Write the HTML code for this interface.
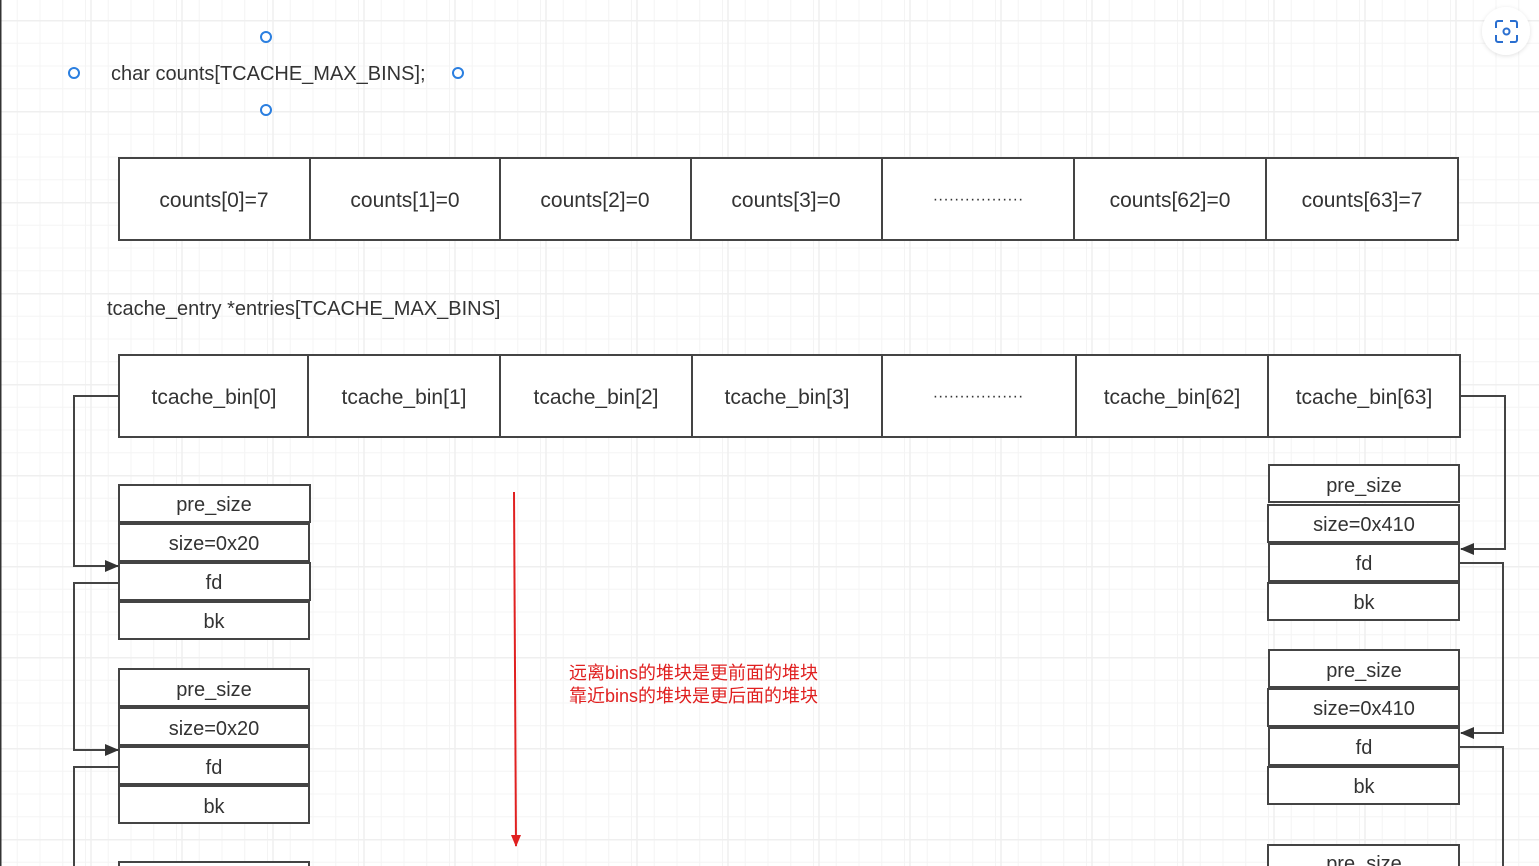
<!DOCTYPE html>
<html><head><meta charset="utf-8"><style>
html,body{margin:0;padding:0;}
body{width:1539px;height:866px;overflow:hidden;position:relative;background:#fff;
background-image:linear-gradient(to right,#efefef 1.5px,transparent 1.5px),linear-gradient(to bottom,#efefef 1.5px,transparent 1.5px),linear-gradient(to right,#f4f4f4 1px,transparent 1px),linear-gradient(to bottom,#f4f4f4 1px,transparent 1px);
background-size:91px 91px,91px 91px,22.75px 22.75px,22.75px 22.75px;
background-position:-0.75px 20px,-0.75px 20px,16.75px 20px,16.75px 20px;
font-family:"Liberation Sans","Noto Sans CJK SC",sans-serif;}
svg{position:absolute;left:0;top:0;}
text{font-family:"Liberation Sans","Noto Sans CJK SC",sans-serif;fill:#333;}
</style></head><body>
<svg width="1539" height="866" viewBox="0 0 1539 866">
<defs>
<marker id="a" markerWidth="14" markerHeight="12" refX="13" refY="6" orient="auto" markerUnits="userSpaceOnUse"><path d="M0,0 L14,6 L0,12 z" fill="#333"/></marker>
<marker id="ar" markerWidth="10" markerHeight="12" refX="5" refY="11" orient="0" markerUnits="userSpaceOnUse"><path d="M0,0 L10,0 L5,12 z" fill="#e02020"/></marker>
<filter id="sh" x="-50%" y="-50%" width="200%" height="200%"><feDropShadow dx="0" dy="1" stdDeviation="2" flood-color="#000" flood-opacity="0.12"/></filter>
</defs>
<line x1="0.5" y1="0" x2="0.5" y2="866" stroke="#333" stroke-width="2"/>
<g fill="#fff" stroke="#2b7fe0" stroke-width="2">
<circle cx="266" cy="37" r="5"/><circle cx="74" cy="73" r="5"/><circle cx="458" cy="73" r="5"/><circle cx="266" cy="110" r="5"/>
</g>
<text x="111" y="80" font-size="20">char counts[TCACHE_MAX_BINS];</text>
<text x="107" y="315" font-size="20">tcache_entry *entries[TCACHE_MAX_BINS]</text>
<g stroke="#444" stroke-width="2" fill="#fff">
<rect x="119" y="158" width="1339" height="82"/>
<line x1="310" y1="158" x2="310" y2="240"/><line x1="500" y1="158" x2="500" y2="240"/><line x1="691" y1="158" x2="691" y2="240"/><line x1="882" y1="158" x2="882" y2="240"/><line x1="1074" y1="158" x2="1074" y2="240"/><line x1="1266" y1="158" x2="1266" y2="240"/>
<rect x="119" y="355" width="1341" height="82"/>
<line x1="308" y1="355" x2="308" y2="437"/><line x1="500" y1="355" x2="500" y2="437"/><line x1="692" y1="355" x2="692" y2="437"/><line x1="882" y1="355" x2="882" y2="437"/><line x1="1076" y1="355" x2="1076" y2="437"/><line x1="1268" y1="355" x2="1268" y2="437"/>
</g>
<g font-size="21" text-anchor="middle">
<text x="214" y="207">counts[0]=7</text><text x="405" y="207">counts[1]=0</text><text x="595" y="207">counts[2]=0</text><text x="786" y="207">counts[3]=0</text><text x="978" y="204" font-size="16">·················</text><text x="1170" y="207">counts[62]=0</text><text x="1362" y="207">counts[63]=7</text>
<text x="214" y="404">tcache_bin[0]</text><text x="404" y="404">tcache_bin[1]</text><text x="596" y="404">tcache_bin[2]</text><text x="787" y="404">tcache_bin[3]</text><text x="978" y="401" font-size="16">·················</text><text x="1172" y="404">tcache_bin[62]</text><text x="1364" y="404">tcache_bin[63]</text>
</g>
<g stroke="#444" stroke-width="2" fill="#fff">
<rect x="119" y="485" width="191" height="37"/><rect x="119" y="524" width="190" height="37"/><rect x="119" y="563" width="191" height="37"/><rect x="119" y="602" width="190" height="37"/>
<rect x="119" y="669" width="190" height="37"/><rect x="119" y="708" width="190" height="37"/><rect x="119" y="747" width="190" height="37"/><rect x="119" y="786" width="190" height="37"/>
<rect x="119" y="862" width="190" height="30"/>
<rect x="1269" y="465" width="190" height="37"/><rect x="1268" y="505" width="191" height="37"/><rect x="1269" y="544" width="190" height="37"/><rect x="1268" y="583" width="191" height="37"/>
<rect x="1269" y="650" width="190" height="37"/><rect x="1268" y="689" width="191" height="37"/><rect x="1269" y="728" width="190" height="37"/><rect x="1268" y="767" width="191" height="37"/>
<rect x="1268" y="845" width="191" height="37"/>
</g>
<g font-size="20" text-anchor="middle">
<text x="214" y="511">pre_size</text><text x="214" y="550">size=0x20</text><text x="214" y="589">fd</text><text x="214" y="628">bk</text>
<text x="214" y="696">pre_size</text><text x="214" y="735">size=0x20</text><text x="214" y="774">fd</text><text x="214" y="813">bk</text>
<text x="1364" y="492">pre_size</text><text x="1364" y="531">size=0x410</text><text x="1364" y="570">fd</text><text x="1364" y="609">bk</text>
<text x="1364" y="677">pre_size</text><text x="1364" y="715">size=0x410</text><text x="1364" y="754">fd</text><text x="1364" y="793">bk</text>
<text x="1364" y="870">pre_size</text>
</g>
<g stroke="#444" stroke-width="2" fill="none">
<polyline points="119,396 74,396 74,566 118,566" marker-end="url(#a)"/>
<polyline points="119,583 74,583 74,750 118,750" marker-end="url(#a)"/>
<polyline points="119,767 74,767 74,866"/>
<polyline points="1460,396 1505,396 1505,549 1461,549" marker-end="url(#a)"/>
<polyline points="1460,563 1503,563 1503,733 1461,733" marker-end="url(#a)"/>
<polyline points="1460,747 1503,747 1503,866"/>
</g>
<line x1="514" y1="492" x2="516" y2="846" stroke="#e02020" stroke-width="2" marker-end="url(#ar)"/>
<text x="569" y="679" font-size="18" style="fill:#e02020">远离bins的堆块是更前面的堆块</text>
<text x="569" y="702" font-size="18" style="fill:#e02020">靠近bins的堆块是更后面的堆块</text>
<circle cx="1506" cy="31" r="24" fill="#fff" filter="url(#sh)"/>
<g stroke="#2a6fd0" stroke-width="2" fill="none">
<path d="M1496,28 v-5 a2,2 0 0 1 2,-2 h5"/><path d="M1510,21 h5 a2,2 0 0 1 2,2 v5"/>
<path d="M1517,35 v5 a2,2 0 0 1 -2,2 h-5"/><path d="M1503,42 h-5 a2,2 0 0 1 -2,-2 v-5"/>
<circle cx="1506.5" cy="31.5" r="3"/>
</g>
</svg>
</body></html>
